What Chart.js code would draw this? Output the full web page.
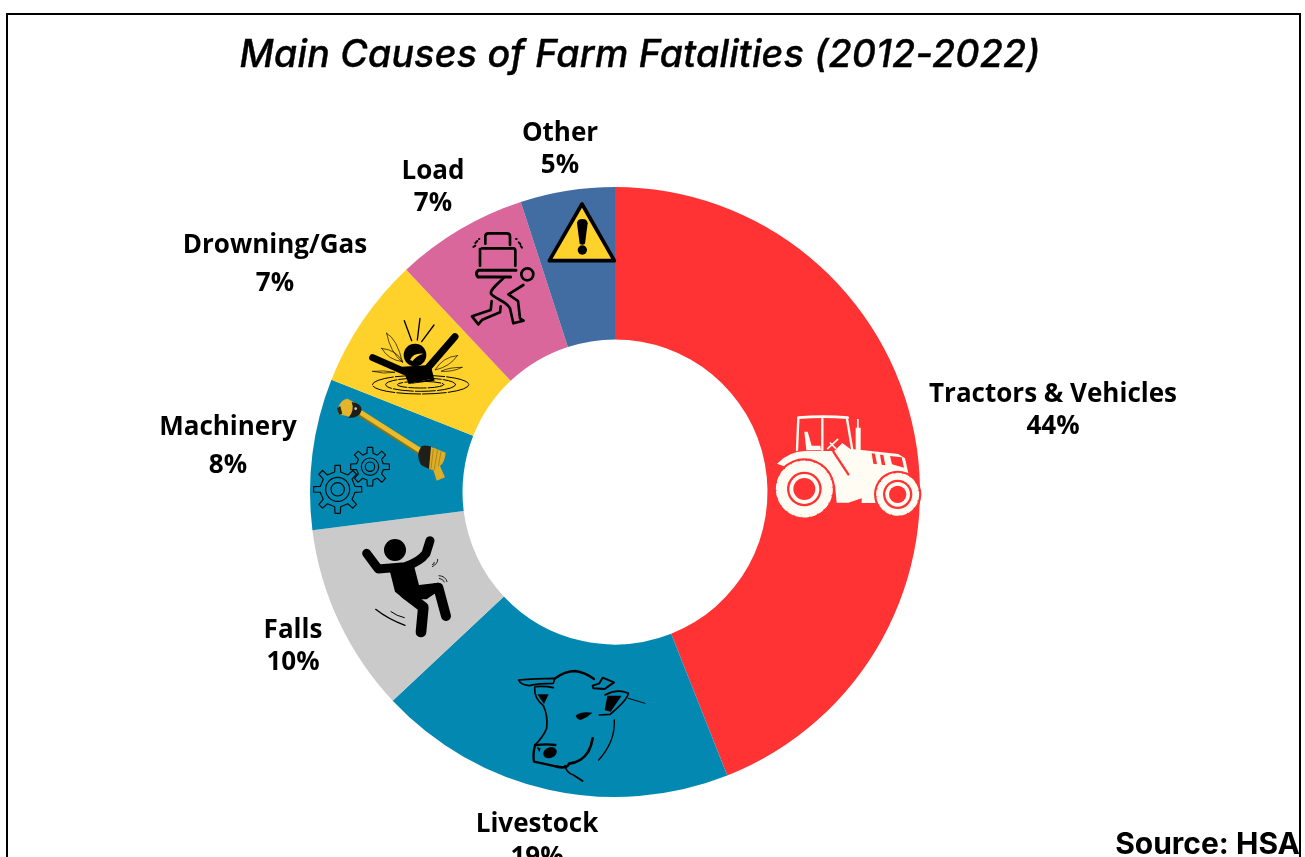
<!DOCTYPE html>
<html>
<head>
<meta charset="utf-8">
<title>Main Causes of Farm Fatalities (2012-2022)</title>
<script src="https://cdn.jsdelivr.net/npm/chart.js@4"></script>
<style>
  html, body { margin: 0; background: #fff; overflow: hidden; }
  #page { position: relative; width: 1305px; height: 857px; overflow: hidden; }
  #mapChart { position: absolute; left: 0; top: 0; }
  #frame { position: absolute; left: 6px; top: 13px; width: 1291px; height: 860px; border: 2.5px solid #000; box-sizing: content-box; }
  h1 { position: absolute; left: 0; width: 1280px; top: 31px; margin: 0; text-align: center; font: italic 500 37.5px Inter, sans-serif; letter-spacing: 0.25px; -webkit-text-stroke: 0.4px #000; color: #000; white-space: nowrap; }
  #source { position: absolute; right: 5px; top: 825px; font: 700 30px Inter, sans-serif; color: #000; white-space: nowrap; }
</style>
</head>
<body>
<div id="page">
  <canvas id="mapChart" width="1305" height="857"></canvas>
  <h1>Main Causes of Farm Fatalities (2012-2022)</h1>
  <div id="source">Source: HSA</div>
  <div id="frame"></div>
</div>
<script>
const causes = ["Tractors & Vehicles", "Livestock", "Falls", "Machinery", "Drowning/Gas", "Load", "Other"];
const shares = [44, 19, 10, 8, 7, 7, 5];
const sliceColors = ["#FF3333", "#0389B1", "#CACACA", "#0389B1", "#FFD22B", "#D9679B", "#426DA3"];

// label anchor per slice: x, first line y, second line y (from the doughnut centre)
const labelSpots = [
  [438, -97, -65],
  [-78, 333, 366],
  [-322, 139, 171],
  [-387, -64, -26],
  [-340, -246, -208],
  [-182, -320, -288],
  [-55, -358, -326]
];

const line = (ctx, d, width, color = "#000") => {
  ctx.lineWidth = width;
  ctx.strokeStyle = color;
  ctx.lineCap = "round";
  ctx.lineJoin = "round";
  ctx.stroke(new Path2D(d));
};
const fill = (ctx, d, color = "#000") => {
  ctx.fillStyle = color;
  ctx.fill(new Path2D(d));
};
const disc = (ctx, x, y, r, color = "#000") => {
  ctx.fillStyle = color;
  ctx.beginPath();
  ctx.arc(x, y, r, 0, Math.PI * 2);
  ctx.fill();
};

function drawWheel(ctx, x, y, r, ring, hub) {
  const ivory = "#FFFDF3", red = "#FF3333";
  disc(ctx, x, y, r + 8, red);
  disc(ctx, x, y, r - 5, ivory);
  ctx.save();
  ctx.beginPath();
  ctx.arc(x, y, r - 3, 0, Math.PI * 2);
  ctx.setLineDash([15, 8]);
  ctx.lineWidth = 9;
  ctx.strokeStyle = ivory;
  ctx.stroke();
  ctx.restore();
  disc(ctx, x, y, ring, red);
  disc(ctx, x, y, ring - 7, ivory);
  disc(ctx, x, y, hub, red);
}

function drawTractor(ctx) {
  const ivory = "#FFFDF3", red = "#FF3333";
  line(ctx, "M100,38 Q175,32 248,38", 8, ivory);
  line(ctx, "M100,40 L96,135 M172,42 L172,135 M246,42 L262,135", 7, ivory);
  fill(ctx, "M118,80 L128,80 L140,122 L166,122 L168,136 L124,136 Z", ivory);
  line(ctx, "M188,131 L218,103 M196,114 L212,130", 5, ivory);
  fill(ctx, "M272,68 L287,68 L287,136 L272,136 Z M276,42 L281,42 L281,70 L276,70 Z", ivory);
  // hood, cab floor and the fender sweep over the rear wheel
  fill(ctx, "M36,176 Q70,140 120,138 L208,138 L232,114 L256,132 L290,135 L400,147 L420,160 L430,205 L395,205 Q340,225 332,270 L332,294 L290,294 L290,280 L250,293 L215,293 L210,240 Z", ivory);
  fill(ctx, "M320,145 L330,146 L336,178 L325,176 Z M345,149 L355,150 L361,181 L350,179 Z M375,153 L410,157 L417,188 L381,178 Z", red);
  line(ctx, "M205,140 L250,208", 7, red);
  drawWheel(ctx, 118, 252, 84, 52, 33);
  drawWheel(ctx, 398, 268, 63, 44, 26);
}

function drawLoad(ctx) {
  line(ctx, "M76,146 V124 Q76,115 86,115 H140 Q150,115 150,124 V150", 8);
  line(ctx, "M66,160 H160 Q166,160 166,168 V212 M60,162 V212", 8);
  line(ctx, "M55,226 H168 M55,226 Q44,234 54,246 H152", 9);
  ctx.lineWidth = 8;
  ctx.strokeStyle = "#000";
  ctx.beginPath();
  ctx.arc(202, 238, 18, 0, Math.PI * 2);
  ctx.stroke();
  line(ctx, "M130,250 C108,270 90,285 93,296 C100,310 140,318 150,340 L160,385 L190,377", 8);
  line(ctx, "M190,270 L145,298 L174,318 L180,370 L190,377", 8);
  line(ctx, "M95,318 L92,345 L36,364 L55,388 L67,374 L120,352 L122,334", 8);
  line(ctx, "M40,156 L46,152 M46,144 L52,138 M57,132 L58,132 M168,132 L170,132 M176,142 L181,147 M182,153 L186,158", 6);
}

function drawWarning(ctx) {
  ctx.fillStyle = "#FFD22B";
  ctx.strokeStyle = "#000";
  ctx.lineWidth = 11;
  ctx.lineJoin = "round";
  const triangle = new Path2D("M366,27 L268,197 L463,197 Z");
  ctx.fill(triangle);
  ctx.stroke(triangle);
  fill(ctx, "M351,85 Q352,72 367,72 Q382,72 383,85 L375,146 Q367,152 359,146 Z");
  disc(ctx, 367, 165, 14);
}

function drawDrowning(ctx) {
  disc(ctx, 165, 135, 34);
  fill(ctx, "M150,150 Q160,128 190,131 Q168,138 158,153 Z", "#FFD22B");
  line(ctx, "M38,143 L132,184", 21);
  line(ctx, "M285,80 L205,172", 21);
  fill(ctx, "M125,170 L212,165 L222,205 L146,222 Z");
  line(ctx, "M133,32 L155,92 M180,25 L172,90 M222,45 L185,95", 4);
  line(ctx, "M80,70 Q110,85 128,158 Q90,125 80,70 Z M65,115 Q110,120 128,155 Q85,150 65,115 Z", 2);
  line(ctx, "M292,137 Q250,140 225,180 Q270,170 292,137 Z M306,172 Q265,172 243,184 Q280,186 306,172 Z M38,184 Q70,180 105,187 Q70,193 38,184 Z", 2);
  ctx.lineWidth = 3;
  ctx.strokeStyle = "#000";
  [[145, 28], [105, 20], [70, 10]].forEach(([rx, ry], i) => {
    ctx.save();
    ctx.setLineDash([70 - i * 10, 6]);
    ctx.beginPath();
    ctx.ellipse(182, 224, rx, ry, 0, 0, Math.PI * 2);
    ctx.stroke();
    ctx.restore();
  });
  fill(ctx, "M146,222 L222,205 L224,212 L148,222 Z");
}

function gearOutline(ctx, x, y, body, tip, teeth) {
  ctx.beginPath();
  const toothHalf = 8, bodyHalf = 9;
  for (let i = 0; i < teeth; i++) {
    const a = (i / teeth) * Math.PI * 2 - Math.PI / 2;
    const cos = Math.cos(a), sin = Math.sin(a);
    const point = (r, s) => [x + cos * r - sin * s, y + sin * r + cos * s];
    ctx.lineTo(...point(body, -bodyHalf));
    ctx.lineTo(...point(tip, -toothHalf));
    ctx.lineTo(...point(tip, toothHalf));
    ctx.lineTo(...point(body, bodyHalf));
  }
  ctx.closePath();
  ctx.stroke();
}

function drawMachinery(ctx) {
  ctx.lineJoin = "round";
  ctx.lineWidth = 3.5;
  ctx.strokeStyle = "#0A0A0A";
  gearOutline(ctx, 98, 298, 52, 72, 8);
  gearOutline(ctx, 195, 230, 40, 58, 8);
  [[98, 298, 36], [98, 298, 20], [195, 230, 26], [195, 230, 14]].forEach(([x, y, r]) => {
    ctx.beginPath();
    ctx.arc(x, y, r, 0, Math.PI * 2);
    ctx.stroke();
  });
  // drive shaft
  line(ctx, "M160,66 L345,184", 21, "#8A7216");
  line(ctx, "M160,63 L345,181", 15, "#E8BC2C");
  fill(ctx, "M100,52 Q108,28 128,26 L152,40 L137,82 Q112,74 100,72 Z", "#E3B52B");
  fill(ctx, "M96,55 L106,48 L112,72 L102,74 Z", "#2A2A1A");
  fill(ctx, "M140,36 Q170,40 170,60 Q165,84 130,84 Q150,60 140,36 Z", "#1E1E1A");
  disc(ctx, 152, 56, 4, "#C9C9BE");
  fill(ctx, "M350,168 Q365,164 384,172 L378,240 L348,225 Q330,195 350,168 Z", "#1E1E1A");
  fill(ctx, "M378,170 L422,188 Q420,215 405,228 L420,262 L395,272 L385,240 L372,238 Z", "#DDAE26");
  line(ctx, "M385,178 L378,235 M397,182 L388,238 M408,186 L400,228", 2, "#8F7415");
}

function drawFalls(ctx) {
  disc(ctx, 120, 60, 33);
  line(ctx, "M35,70 L70,117 L150,110 Q195,95 213,70 L225,32", 27);
  fill(ctx, "M100,106 L175,100 L192,165 L250,158 L262,175 L215,208 L148,208 L120,185 Z");
  line(ctx, "M170,195 L250,173 L273,258", 30);
  line(ctx, "M150,190 L205,232 L198,306", 32);
  line(ctx, "M62,238 Q100,268 150,286", 4);
  line(ctx, "M108,245 Q125,258 148,263", 3);
  line(ctx, "M248,88 Q250,100 232,110 M238,97 Q240,102 232,104", 2.5);
  line(ctx, "M252,137 Q272,138 276,155 M253,145 Q265,147 268,156", 2.5);
}

function drawCow(ctx) {
  line(ctx, "M26,45 Q75,40 135,40 L130,55 Q85,55 58,62 Q32,60 26,45 Z", 5);
  line(ctx, "M135,40 Q165,18 195,18 Q225,22 252,42", 7);
  line(ctx, "M248,62 L268,55 L278,38 L312,52 L298,62 L284,72 L250,70 Z", 6);
  fill(ctx, "M82,88 L116,88 L102,117 Z");
  line(ctx, "M75,65 Q105,62 130,68 M74,68 Q72,100 100,122", 5);
  line(ctx, "M100,122 Q114,150 110,190 Q100,215 75,240", 5);
  line(ctx, "M75,240 Q68,270 72,290 Q110,298 140,305", 7);
  line(ctx, "M78,240 Q110,236 136,240", 7);
  ctx.fillStyle = "#000";
  ctx.beginPath();
  ctx.ellipse(120, 263, 21, 16, -0.4, 0, Math.PI * 2);
  ctx.fill();
  fill(ctx, "M80,246 L92,250 L88,262 Z");
  line(ctx, "M140,305 Q170,312 177,296 Q215,292 235,260 Q245,240 248,220", 8);
  line(ctx, "M165,302 Q170,325 190,330 L218,348", 5);
  line(ctx, "M313,165 Q316,230 266,285", 4);
  fill(ctx, "M197,152 Q212,138 247,143 Q232,158 212,165 Q200,162 197,152 Z");
  line(ctx, "M285,90 Q320,70 355,85 Q352,105 300,148 L268,150", 5);
  fill(ctx, "M292,92 L335,92 L302,140 L284,136 Z");
  line(ctx, "M355,100 L405,115", 3);
}

// each entry: draw routine and its offset from the doughnut centre; routines use a 3x grid
const icons = [
  [drawTractor, 150, -87],
  [drawCow, -105, 173],
  [drawFalls, -260, 38],
  [drawMachinery, -310, -102],
  [drawDrowning, -255, -182],
  [drawLoad, -155, -297],
  [drawWarning, -155, -297]
];

const sliceDecorations = {
  id: "sliceDecorations",
  afterDatasetsDraw(chart) {
    const { ctx } = chart;
    const { x: cx, y: cy } = chart.getDatasetMeta(0).data[0];

    icons.forEach(([draw, dx, dy]) => {
      ctx.save();
      ctx.translate(cx + dx, cy + dy);
      ctx.scale(1 / 3, 1 / 3);
      draw(ctx);
      ctx.restore();
    });

    ctx.save();
    ctx.font = "700 26px 'Open Sans', sans-serif";
    ctx.fillStyle = "#000";
    ctx.textAlign = "center";
    ctx.textBaseline = "middle";
    causes.forEach((cause, i) => {
      const [dx, first, second] = labelSpots[i];
      ctx.fillText(cause, cx + dx, cy + first);
      ctx.fillText(shares[i] + "%", cx + dx, cy + second);
    });
    ctx.restore();
  }
};

new Chart("mapChart", {
  type: "doughnut",
  data: {
    labels: causes,
    datasets: [{
      data: shares,
      backgroundColor: sliceColors,
      borderWidth: 0
    }]
  },
  options: {
    responsive: false,
    animation: false,
    cutout: "50%",
    layout: {
      padding: { left: 310, right: 385, top: 187, bottom: 60 }
    },
    plugins: {
      legend: { display: false },
      tooltip: { enabled: false }
    }
  },
  plugins: [sliceDecorations]
});
</script>
</body>
</html>
